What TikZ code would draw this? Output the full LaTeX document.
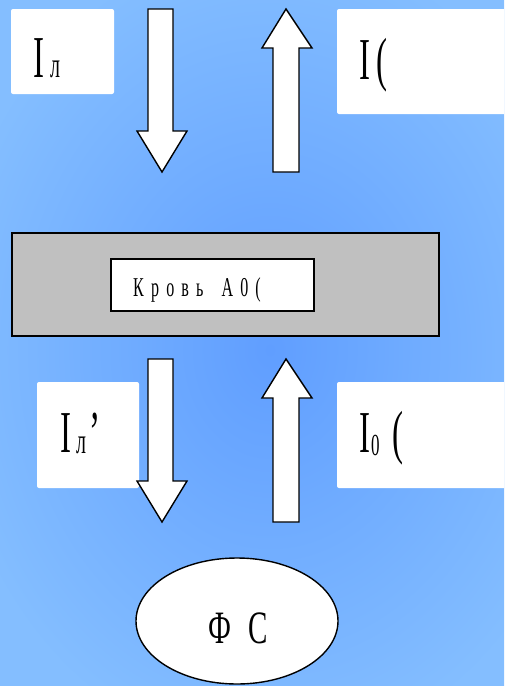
\documentclass[tikz,border=0pt]{standalone}
\usepackage{fontspec}
\setmainfont{Liberation Serif}
\newfontfamily\spacedfont[LetterSpace=45]{Liberation Serif}
\usetikzlibrary{shapes.geometric}
\tikzset{
  lbl/.style={inner sep=0pt, anchor=base west, text=black},
  whitebox/.style={fill=white, rounded corners=2pt},
  blockarrow/.style={fill=white, draw=black, line width=1.4pt, line join=miter},
}
\newcommand{\tallI}[1]{\scalebox{1}[1.8]{\fontsize{33}{33}\selectfont #1}}
\begin{document}
\begin{tikzpicture}[x=1pt,y=-1pt]
\useasboundingbox (0,0) rectangle (504,686);
\clip (0,0) rectangle (504,686);
\shade[inner color={rgb,255:red,96;green,158;blue,255}, outer color={rgb,255:red,132;green,190;blue,255}] (-60,-60) rectangle (600,760);
% white label boxes
\fill[whitebox] (11,9) rectangle (114,94);
\fill[whitebox] (337,9) rectangle (510,114);
\fill[whitebox] (37,382) rectangle (139,488);
\fill[whitebox] (337,382) rectangle (510,488);
% labels
\node[lbl] (il) at (33,77) {\tallI{I\hspace{6pt}{\fontsize{20}{20}\selectfont л}}};
\node[lbl] (io) at (359,79) {\tallI{I\hspace{6pt}(}};
\node[lbl] (ilp) at (60,452) {\tallI{I\hspace{5pt}\raisebox{-1pt}{\fontsize{20}{20}\selectfont л}\hspace{3pt}’}};
\node[lbl] (izero) at (359,452) {\tallI{I\hspace{1pt}\raisebox{-2pt}{\fontsize{17}{17}\selectfont 0}\hspace{13pt}(}};
% top arrows
\draw[blockarrow] (148,9) -- (173,9) -- (173,131) -- (187,131) -- (162,172) -- (137,131) -- (148,131) -- cycle;
\draw[blockarrow] (286,9) -- (312,48) -- (299,48) -- (299,172) -- (273,172) -- (273,48) -- (262,48) -- cycle;
% blood layer
\draw[fill={rgb,255:red,192;green,192;blue,192}, line width=2pt] (12,233) rectangle (439,336);
\node[draw=black, fill=white, line width=1.5pt, minimum width=203pt, minimum height=52pt, inner sep=0pt] (blood) at (212.5,285) {};
\node[lbl] (bloodtxt) at (133,296) {\scalebox{1}[1.7]{\fontsize{16}{16}\spacedfont Кровь\hspace{18pt}А0(}};
% bottom arrows
\draw[blockarrow] (148,359) -- (173,359) -- (173,481) -- (187,481) -- (162,522) -- (137,481) -- (148,481) -- cycle;
\draw[blockarrow] (286,359) -- (312,398) -- (299,398) -- (299,522) -- (273,522) -- (273,398) -- (262,398) -- cycle;
% photodetector
\node[ellipse, draw=black, fill=white, line width=1.4pt, minimum width=202pt, minimum height=126pt, inner sep=0pt] (fs) at (237,621) {};
\node[inner sep=0pt] (fstxt) at (238,628) {\scalebox{1}[1.6]{\fontsize{29}{29}\selectfont Ф\hspace{17pt}С}};
\end{tikzpicture}
\end{document}
